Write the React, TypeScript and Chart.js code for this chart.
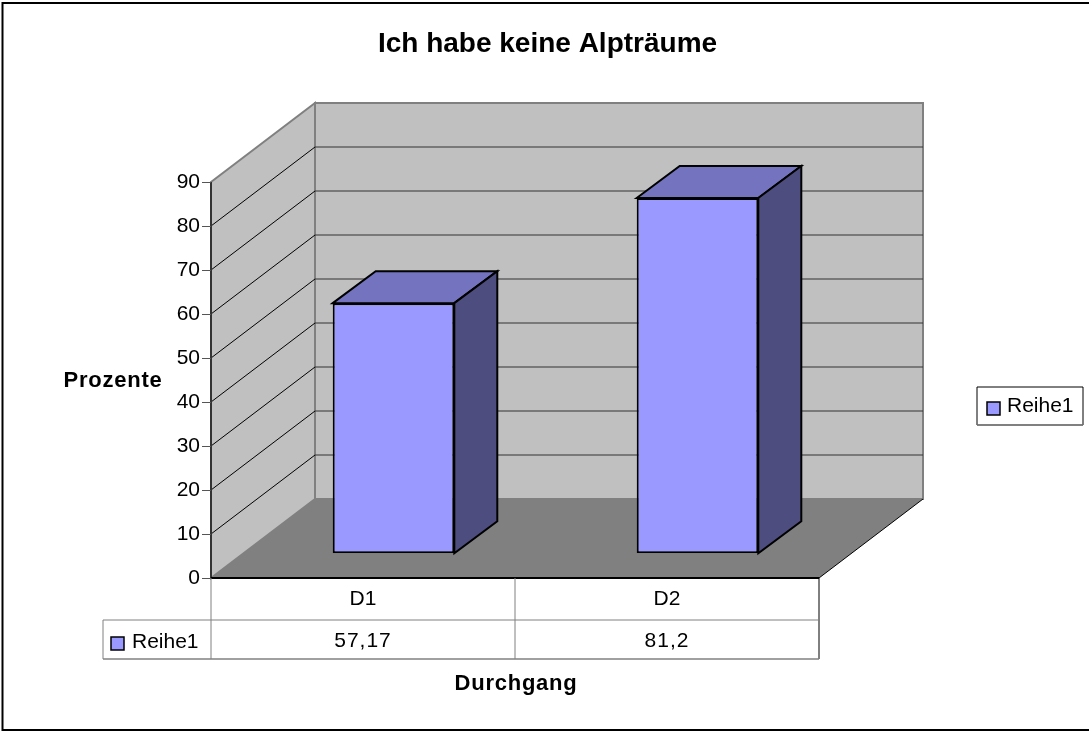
import React, { useEffect, useRef } from "react";
import { Chart, registerables } from "chart.js";

Chart.register(...registerables);

const categories = ["D1", "D2"];
const seriesName = "Reihe1";
const seriesValues = [57.17, 81.2];
const valueLabels = ["57,17", "81,2"];
const titleText = "Ich habe keine Alpträume";
const yAxisTitle = "Prozente";
const xAxisTitle = "Durchgang";

const FONT = "'Liberation Sans', Arial, sans-serif";
const WALL = "#c0c0c0";
const FLOOR = "#808080";
const FACE = "#9999ff";
const TOP = "#7373bf";
const SIDE = "#4d4d80";
const WALL_DX = 104;
const WALL_DY = 79;
const BAR_DX = 30.5;
const BAR_DY = 24.7;
const BAR_DEPTH_X = 43;
const BAR_DEPTH_Y = 32;

function poly(ctx: CanvasRenderingContext2D, pts: number[][], fill: string | null, stroke: string | null, lw = 1) {
  ctx.beginPath();
  pts.forEach((p, i) => (i ? ctx.lineTo(p[0], p[1]) : ctx.moveTo(p[0], p[1])));
  ctx.closePath();
  if (fill) { ctx.fillStyle = fill; ctx.fill(); }
  if (stroke) { ctx.strokeStyle = stroke; ctx.lineWidth = lw; ctx.stroke(); }
}
function line(ctx: CanvasRenderingContext2D, x1: number, y1: number, x2: number, y2: number, c: string, lw = 1) {
  ctx.beginPath();
  ctx.moveTo(x1, y1);
  ctx.lineTo(x2, y2);
  ctx.strokeStyle = c;
  ctx.lineWidth = lw;
  ctx.stroke();
}

const scene3d = {
  id: "scene3d",
  beforeDraw(chart: any) {
    const ctx: CanvasRenderingContext2D = chart.ctx;
    const { left, right, top, bottom } = chart.chartArea;
    const y = chart.scales.y;
    ctx.save();
    ctx.fillStyle = "#fff";
    ctx.fillRect(0, 0, chart.width, chart.height);
    ctx.strokeStyle = "#000";
    ctx.lineWidth = 2;
    ctx.strokeRect(2.5, 3, 1100, 727);
    // floor
    poly(ctx, [[left, bottom], [right, bottom], [right + WALL_DX, bottom - WALL_DY], [left + WALL_DX, bottom - WALL_DY]], FLOOR, null);
    // walls
    poly(ctx, [[left + WALL_DX, top - WALL_DY], [right + WALL_DX, top - WALL_DY], [right + WALL_DX, bottom - WALL_DY], [left + WALL_DX, bottom - WALL_DY]], WALL, "#808080", 2);
    poly(ctx, [[left, top], [left + WALL_DX, top - WALL_DY], [left + WALL_DX, bottom - WALL_DY], [left, bottom]], WALL, "#808080", 2);
    // floor edges
    line(ctx, right, bottom, right + WALL_DX, bottom - WALL_DY, "#000");
    // gridlines
    y.ticks.forEach((t: any) => {
      if (t.value === 0 || t.value === 90) return;
      const py = y.getPixelForValue(t.value);
      line(ctx, left, py, left + WALL_DX, py - WALL_DY, "#000");
      line(ctx, left + WALL_DX, py - WALL_DY, right + WALL_DX, py - WALL_DY, "#333");
    });
    // axis lines
    line(ctx, left, top, left, bottom, "#333", 2);
    line(ctx, left, bottom, right, bottom, "#000", 2);
    ctx.restore();
  },
  beforeDatasetsDraw(chart: any) {
    const ctx: CanvasRenderingContext2D = chart.ctx;
    ctx.save();
    ctx.translate(BAR_DX, -BAR_DY);
    chart.getDatasetMeta(0).data.forEach((bar: any) => {
      const l = bar.x - bar.width / 2;
      const r = bar.x + bar.width / 2;
      const t = bar.y;
      const b = bar.base;
      poly(ctx, [[l, t], [l + BAR_DEPTH_X, t - BAR_DEPTH_Y], [r + BAR_DEPTH_X, t - BAR_DEPTH_Y], [r, t]], TOP, "#000", 2);
      poly(ctx, [[r, t], [r + BAR_DEPTH_X, t - BAR_DEPTH_Y], [r + BAR_DEPTH_X, b - BAR_DEPTH_Y], [r, b]], SIDE, "#000", 2);
    });
  },
  afterDatasetsDraw(chart: any) {
    chart.ctx.restore();
  },
  afterDraw(chart: any) {
    const ctx: CanvasRenderingContext2D = chart.ctx;
    const { left, right, bottom } = chart.chartArea;
    const mid = (left + right) / 2;
    const row1 = 620;
    const row2 = 659;
    const tableLeft = 103;
    ctx.save();
    // data table
    line(ctx, left, bottom, left, row2, "#808080");
    line(ctx, mid, bottom, mid, row2, "#808080");
    line(ctx, right, bottom, right, row2, "#000");
    line(ctx, tableLeft, row1, right, row1, "#808080");
    line(ctx, tableLeft, row2, right, row2, "#808080", 1.5);
    line(ctx, tableLeft, row1, tableLeft, row2, "#808080");
    ctx.font = `21px ${FONT}`;
    ctx.fillStyle = "#000";
    ctx.textBaseline = "middle";
    ctx.textAlign = "left";
    poly(ctx, [[111, 637], [124, 637], [124, 650], [111, 650]], FACE, "#000", 1.5);
    ctx.fillStyle = "#000";
    ctx.fillText(seriesName, 132, 642);
    ctx.textAlign = "center";
    const x = chart.scales.x;
    (ctx as any).letterSpacing = "1px";
    valueLabels.forEach((v, i) => ctx.fillText(v, x.getPixelForValue(i), 641));
    // axis titles
    ctx.font = `bold 22px ${FONT}`;
    (ctx as any).letterSpacing = "0.75px";
    ctx.textAlign = "center";
    ctx.fillText(yAxisTitle, 113, 381);
    ctx.fillText(xAxisTitle, 516, 684);
    (ctx as any).letterSpacing = "0px";
    // legend
    ctx.font = `21px ${FONT}`;
    poly(ctx, [[977, 387], [1083, 387], [1083, 425], [977, 425]], "#fff", "#000", 1);
    line(ctx, 977, 425, 1083, 425, "#808080", 1.5);
    poly(ctx, [[987, 402], [1000, 402], [1000, 415], [987, 415]], FACE, "#000", 1.5);
    ctx.fillStyle = "#000";
    ctx.textAlign = "left";
    ctx.fillText(chart.data.datasets[0].label, 1007, 406);
    ctx.restore();
  },
};

export default function App() {
  const ref = useRef<HTMLCanvasElement>(null);
  useEffect(() => {
    document.body.style.margin = "0";
    const chart = new Chart(ref.current!, {
      type: "bar",
      data: {
        labels: categories,
        datasets: [
          {
            label: seriesName,
            data: seriesValues,
            yAxisID: "yBars",
            backgroundColor: FACE,
            borderColor: "#000",
            borderWidth: 2,
            borderSkipped: false,
            barPercentage: 0.4,
            categoryPercentage: 1,
          },
        ],
      },
      options: {
        animation: false,
        responsive: false,
        layout: { padding: { left: 6 } },
        plugins: {
          legend: { display: false },
          tooltip: { enabled: false },
          title: {
            display: true,
            text: titleText,
            color: "#000",
            font: { family: FONT, size: 28, weight: "bold" },
            padding: { top: 27, bottom: 121.4 },
          },
        },
        scales: {
          x: {
            grid: { display: false },
            border: { display: false },
            ticks: { color: "#000", font: { family: FONT, size: 21 }, padding: 1 },
            afterFit: (s: any) => { s.height = 153; },
          },
          y: {
            min: 0,
            max: 90,
            position: "left",
            grid: { display: true, drawOnChartArea: false, drawTicks: true, tickLength: 9, tickColor: "#555", tickWidth: 1 },
            border: { display: false },
            ticks: { stepSize: 10, color: "#000", font: { family: FONT, size: 21 }, padding: 2 },
            afterFit: (s: any) => { s.width = 205; },
          },
          yBars: {
            min: 0,
            max: 90.5,
            position: "right",
            grid: { display: false },
            border: { display: false },
            ticks: { display: false },
            afterFit: (s: any) => { s.width = 270; },
          },
        },
      },
      plugins: [scene3d],
    } as any);
    return () => chart.destroy();
  }, []);
  return <canvas ref={ref} width={1089} height={731} style={{ display: "block" }} />;
}
